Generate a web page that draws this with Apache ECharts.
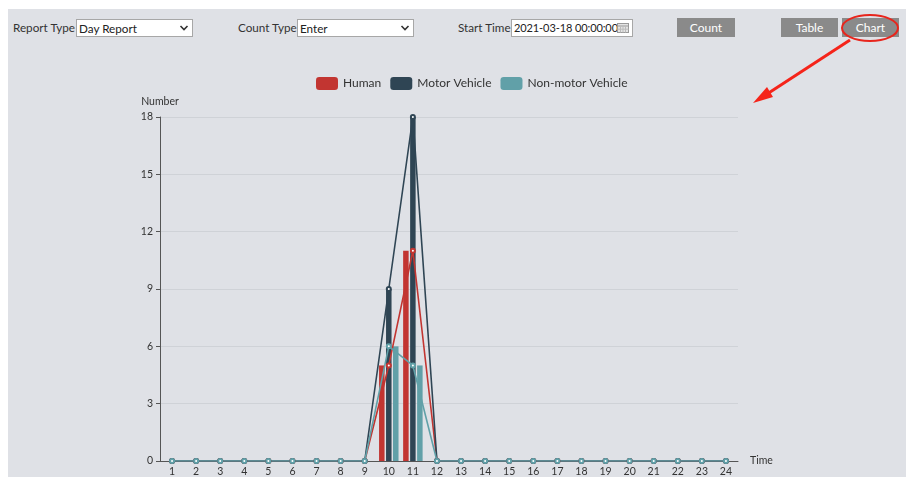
<!DOCTYPE html>
<html>
<head>
<meta charset="utf-8">
<script src="https://cdn.jsdelivr.net/npm/echarts@6/dist/echarts.min.js"></script>
<style>
  html, body { margin: 0; padding: 0; background: #ffffff; }
  body { width: 906px; height: 477px; position: relative; overflow: hidden; font-family: Lato, "Noto Sans", sans-serif; color: #333; }
  #panel { position: absolute; left: 8px; top: 9px; right: 0; bottom: 0; background: #dfe1e6; }
  #chart { position: absolute; left: 0; top: 0; width: 906px; height: 477px; }
  .lbl { position: absolute; font-size: 11.7px; line-height: 17px; top: 19px; color: #333; white-space: nowrap; }
  .box { position: absolute; top: 19px; height: 16px; background: #fff; border: 1px solid #a7a7a7; font-size: 11.7px; line-height: 16px; padding-left: 2px; box-sizing: content-box; color: #222; white-space: nowrap; }
  .box svg { position: absolute; top: 0; }
  .btn { position: absolute; top: 18px; height: 19px; background: #8a8a8a; color: #fff; font-size: 12px; line-height: 19px; text-align: center; }
</style>
</head>
<body>
<div id="panel"></div>

<div class="lbl" style="left:13px">Report Type</div>
<div class="box" style="left:76px;width:113px">Day Report
  <svg style="left:102px" width="10" height="16"><polyline points="1.5,6 5,9.5 8.5,6" fill="none" stroke="#333" stroke-width="1.6"/></svg>
</div>

<div class="lbl" style="left:238px">Count Type</div>
<div class="box" style="left:297px;width:113px">Enter
  <svg style="left:102px" width="10" height="16"><polyline points="1.5,6 5,9.5 8.5,6" fill="none" stroke="#333" stroke-width="1.6"/></svg>
</div>

<div class="lbl" style="left:458px">Start Time</div>
<div class="box" style="left:511px;width:118px;font-size:11px;letter-spacing:-0.1px">2021-03-18 00:00:00
  <svg style="left:105px" width="12" height="16">
    <rect x="0.5" y="3.5" width="11" height="9" fill="#e4e4e4" stroke="#999"/>
    <line x1="0.5" y1="6" x2="11.5" y2="6" stroke="#999"/>
    <line x1="3.5" y1="6" x2="3.5" y2="12.5" stroke="#bbb"/>
    <line x1="6" y1="6" x2="6" y2="12.5" stroke="#bbb"/>
    <line x1="8.5" y1="6" x2="8.5" y2="12.5" stroke="#bbb"/>
    <line x1="0.5" y1="9.2" x2="11.5" y2="9.2" stroke="#bbb"/>
  </svg>
</div>

<div class="btn" style="left:677px;width:58px">Count</div>
<div class="btn" style="left:781px;width:57px">Table</div>
<div class="btn" style="left:842px;width:57px">Chart</div>

<div id="chart"></div>

<script>
// Hourly counts for the day report, one value per hour 1..24
const hours = ['1','2','3','4','5','6','7','8','9','10','11','12',
               '13','14','15','16','17','18','19','20','21','22','23','24'];
const human        = [0,0,0,0,0,0,0,0,0,5,11,0,0,0,0,0,0,0,0,0,0,0,0,0];
const motorVehicle = [0,0,0,0,0,0,0,0,0,9,18,0,0,0,0,0,0,0,0,0,0,0,0,0];
const nonMotor     = [0,0,0,0,0,0,0,0,0,6,5,0,0,0,0,0,0,0,0,0,0,0,0,0];

const seriesNames = ['Human', 'Motor Vehicle', 'Non-motor Vehicle'];
const seriesData = [human, motorVehicle, nonMotor];
const palette = ['#c23531', '#2f4554', '#61a0a8'];

const chart = echarts.init(document.getElementById('chart'), null, { renderer: 'canvas' });

const bars = seriesNames.map((name, i) => ({
  name: name,
  type: 'bar',
  data: seriesData[i],
  barWidth: 5.5,
  barGap: '27%',
  itemStyle: { color: palette[i] },
  z: 2
}));

const lines = seriesNames.map((name, i) => ({
  name: name,
  type: 'line',
  data: seriesData[i],
  symbol: 'emptyCircle',
  symbolSize: 4,
  showSymbol: true,
  lineStyle: { width: 1.6, color: palette[i] },
  itemStyle: { color: palette[i], borderWidth: 1 },
  z: 3
}));

chart.setOption({
  animation: false,
  color: palette,
  textStyle: { fontFamily: 'Lato, "Noto Sans", sans-serif' },
  legend: {
    data: seriesNames,
    top: 72,
    left: 311,
    itemWidth: 22,
    itemHeight: 13,
    itemGap: 9,
    icon: 'roundRect',
    textStyle: { fontSize: 12, color: '#333' }
  },
  grid: { left: 160, right: 168, top: 117, bottom: 12, containLabel: false },
  xAxis: {
    type: 'category',
    data: hours,
    name: 'Time',
    nameGap: 12,
    nameTextStyle: { fontSize: 10.5, color: '#333' },
    axisLine: { lineStyle: { color: '#555' } },
    axisTick: { length: 4, lineStyle: { color: '#555' } },
    axisLabel: { fontSize: 10.5, color: '#333', margin: 5, interval: 0 }
  },
  yAxis: {
    type: 'value',
    min: 0,
    max: 18,
    interval: 3,
    name: 'Number',
    nameGap: 10,
    nameTextStyle: { fontSize: 10.5, color: '#333' },
    axisLine: { show: true, lineStyle: { color: '#555' } },
    axisTick: { show: true, length: 4, lineStyle: { color: '#555' } },
    axisLabel: { fontSize: 10.5, color: '#333', margin: 7 },
    splitLine: { lineStyle: { color: '#cfd2d7' } }
  },
  graphic: [
    // red ring around the Chart button
    { type: 'ellipse', shape: { cx: 870, cy: 28, rx: 28, ry: 13 },
      style: { fill: 'none', stroke: '#e8251c', lineWidth: 2 }, z: 10 },
    // pointer from the Chart button down to the plot
    { type: 'line', shape: { x1: 850, y1: 40, x2: 764, y2: 96 },
      style: { stroke: '#f5241a', lineWidth: 3 }, z: 10 },
    { type: 'polygon', shape: { points: [[753, 103], [767, 87], [773, 97]] },
      style: { fill: '#f5241a' }, z: 10 }
  ],
  series: bars.concat(lines)
});
</script>
</body>
</html>
